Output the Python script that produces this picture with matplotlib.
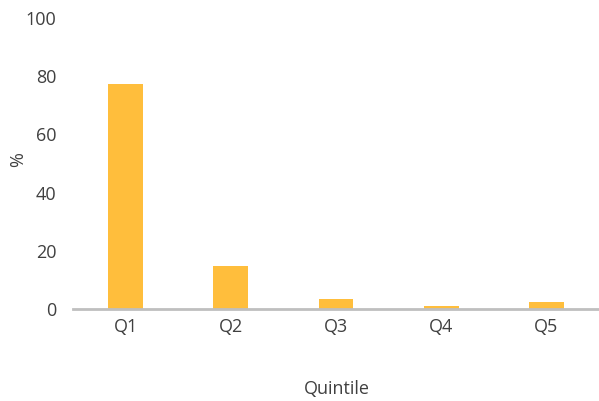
import matplotlib.pyplot as plt
plt.switch_backend('agg')
import numpy as np

categories = ['Q1', 'Q2', 'Q3', 'Q4', 'Q5']
values = [77.3, 14.8, 3.5, 1.2, 2.4]
yticks = [0, 20, 40, 60, 80, 100]

plt.rcParams['font.family'] = ['Open Sans', 'DejaVu Sans']
text_color = '#404040'

fig = plt.figure(figsize=(5.99, 4.01), dpi=100)
ax = fig.add_axes([0.122, 0.229, 0.878, 0.726])
x = np.arange(len(categories))
ax.bar(x, values, width=0.33, color='#FFBE3C')
ax.set_xlim(-0.5, len(categories) - 0.5)
ax.set_ylim(0, 100)
ax.set_yticks(yticks)
ax.set_xticks(x)
ax.set_xticklabels(categories)
for s in ['top', 'right', 'left']:
    ax.spines[s].set_visible(False)
ax.spines['bottom'].set_color('#BFBFBF')
ax.spines['bottom'].set_linewidth(2)
ax.tick_params(axis='both', length=0, labelsize=13, colors=text_color)
ax.tick_params(axis='x', pad=6)
ax.tick_params(axis='y', pad=12)
fig.text(0.5626, 0.030, 'Quintile', fontsize=13, color=text_color, ha='center', va='center')
fig.text(0.030, 0.601, '%', fontsize=13, color=text_color, ha='center', va='center', rotation=90)
plt.savefig('out.png', dpi=100)
